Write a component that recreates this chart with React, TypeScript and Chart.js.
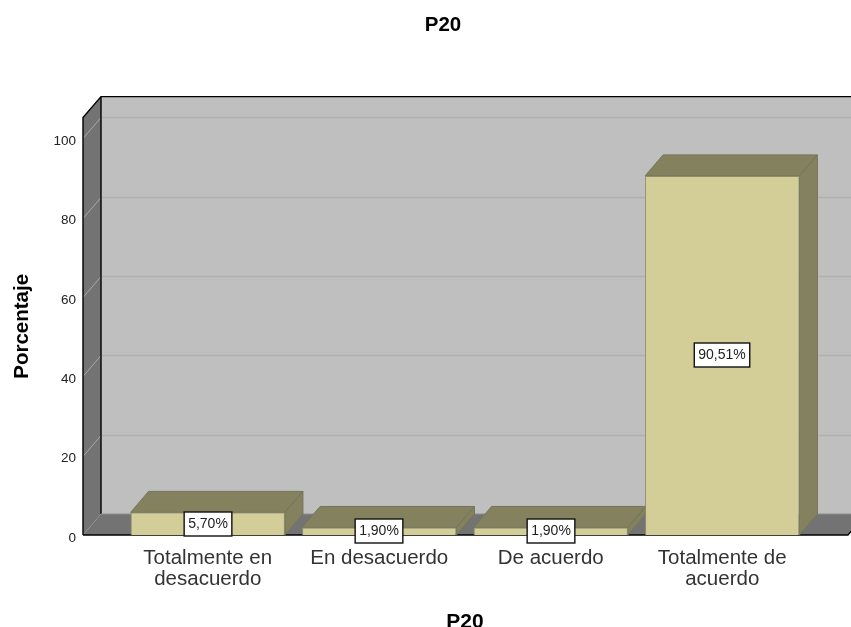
import React, { useEffect, useRef } from "react";
import { Chart, registerables } from "chart.js";

Chart.register(...registerables);

const categories = [["Totalmente en", "desacuerdo"], ["En desacuerdo"], ["De acuerdo"], ["Totalmente de", "acuerdo"]];
const percentages = [5.7, 1.9, 1.9, 90.51];
const chartTitle = "P20";
const yAxisTitle = "Porcentaje";
const xAxisTitle = "P20";

const FONT = "'Liberation Sans', Arial, sans-serif";
const DEPTH_X = 18;
const DEPTH_Y = 21;
const AXIS_LEFT_GAP = 39;
const AXIS_RIGHT_GAP = 40;

function poly(ctx: CanvasRenderingContext2D, pts: number[][], fill: string, stroke?: string, lw = 1) {
  ctx.beginPath();
  pts.forEach((p, i) => (i ? ctx.lineTo(p[0], p[1]) : ctx.moveTo(p[0], p[1])));
  ctx.closePath();
  ctx.fillStyle = fill;
  ctx.fill();
  if (stroke) {
    ctx.strokeStyle = stroke;
    ctx.lineWidth = lw;
    ctx.stroke();
  }
}

const box3d = {
  id: "box3d",
  afterLayout(chart: any) {
    // the tick labels sit far from the chart area; widen the axis box so they are not clipped
    chart.scales.y.left = 0;
  },
  beforeDatasetsDraw(chart: any) {
    const { ctx, chartArea: a, scales } = chart;
    const l = a.left - AXIS_LEFT_GAP;
    const r = a.right + AXIS_RIGHT_GAP;
    const t = a.top;
    const b = a.bottom;
    ctx.save();
    poly(ctx, [[l + DEPTH_X, t - DEPTH_Y], [r + DEPTH_X, t - DEPTH_Y], [r + DEPTH_X, b - DEPTH_Y], [l + DEPTH_X, b - DEPTH_Y]], "#BFBFBF");
    poly(ctx, [[l, t], [l + DEPTH_X, t - DEPTH_Y], [l + DEPTH_X, b - DEPTH_Y], [l, b]], "#737373");
    poly(ctx, [[l, b], [l + DEPTH_X, b - DEPTH_Y], [r + DEPTH_X, b - DEPTH_Y], [r, b]], "#737373");
    scales.y.ticks.forEach((tick: any) => {
      if (tick.value === 0) return;
      const y = Math.round(scales.y.getPixelForValue(tick.value)) + 0.5;
      ctx.strokeStyle = "#A8A8A8";
      ctx.lineWidth = 1;
      ctx.beginPath();
      ctx.moveTo(l, y);
      ctx.lineTo(l + DEPTH_X, y - DEPTH_Y);
      ctx.stroke();
      ctx.strokeStyle = "#B0B0B0";
      ctx.lineWidth = 1.5;
      ctx.beginPath();
      ctx.moveTo(l + DEPTH_X, y - DEPTH_Y);
      ctx.lineTo(r + DEPTH_X, y - DEPTH_Y);
      ctx.stroke();
    });
    // outline of the walls
    ctx.strokeStyle = "#000000";
    ctx.lineWidth = 1.4;
    ctx.beginPath();
    ctx.moveTo(l, b);
    ctx.lineTo(l, t);
    ctx.lineTo(l + DEPTH_X, t - DEPTH_Y);
    ctx.lineTo(r + DEPTH_X, t - DEPTH_Y);
    ctx.moveTo(l + DEPTH_X, t - DEPTH_Y);
    ctx.lineTo(l + DEPTH_X, b - DEPTH_Y);
    ctx.moveTo(l, b);
    ctx.lineTo(r, b);
    ctx.lineTo(r + DEPTH_X, b - DEPTH_Y);
    ctx.stroke();
    ctx.strokeStyle = "#8E8E8E";
    ctx.lineWidth = 1;
    ctx.beginPath();
    ctx.moveTo(l + DEPTH_X, b - DEPTH_Y);
    ctx.lineTo(r + DEPTH_X, b - DEPTH_Y);
    ctx.stroke();
    // bar depth faces
    chart.getDatasetMeta(0).data.forEach((bar: any) => {
      const p = bar.getProps(["x", "y", "base", "width"], true);
      const x0 = p.x - p.width / 2;
      const x1 = p.x + p.width / 2;
      const edge = "#75755A";
      poly(ctx, [[x0, p.y], [x0 + DEPTH_X, p.y - DEPTH_Y], [x1 + DEPTH_X, p.y - DEPTH_Y], [x1, p.y]], "#83815E", edge);
      poly(ctx, [[x1, p.y], [x1 + DEPTH_X, p.y - DEPTH_Y], [x1 + DEPTH_X, p.base - DEPTH_Y], [x1, p.base]], "#83815E", edge);
    });
    ctx.restore();
  },
  afterDatasetsDraw(chart: any) {
    const { ctx } = chart;
    ctx.save();
    ctx.font = `14px ${FONT}`;
    ctx.textAlign = "center";
    ctx.textBaseline = "middle";
    chart.getDatasetMeta(0).data.forEach((bar: any, i: number) => {
      const p = bar.getProps(["x", "y", "base"], true);
      const text = percentages[i].toFixed(2).replace(".", ",") + "%";
      const w = ctx.measureText(text).width + 8;
      const h = 24;
      const cx = Math.round(p.x);
      const cy = Math.round((p.y + p.base) / 2);
      ctx.fillStyle = "#FFFFFF";
      ctx.fillRect(cx - w / 2, cy - h / 2, w, h);
      ctx.strokeStyle = "#111111";
      ctx.lineWidth = 1.4;
      ctx.strokeRect(cx - w / 2, cy - h / 2, w, h);
      ctx.fillStyle = "#222222";
      ctx.fillText(text, cx, cy + 0.5);
    });
    ctx.restore();
  },
};

export default function App() {
  const ref = useRef<HTMLCanvasElement>(null);
  useEffect(() => {
    const chart = new Chart(ref.current!, {
      type: "bar",
      data: {
        labels: categories,
        datasets: [
          {
            data: percentages,
            backgroundColor: "#D3CE97",
            borderColor: "#8F8F6C",
            borderWidth: 1,
            barPercentage: 0.9,
            categoryPercentage: 1,
          },
        ],
      },
      plugins: [box3d],
      options: {
        responsive: false,
        animation: false,
        layout: { padding: { left: 78, right: 43, top: 0, bottom: 0 } },
        plugins: {
          legend: { display: false },
          tooltip: { enabled: false },
          title: {
            display: true,
            text: chartTitle,
            color: "#000000",
            font: { family: FONT, size: 20.5, weight: "bold" },
            padding: { top: 13, bottom: 80 },
          },
        },
        scales: {
          x: {
            grid: { display: false },
            border: { display: false },
            afterFit: (s: any) => {
              s.height = 92;
            },
            ticks: {
              color: "#333333",
              font: { family: FONT, size: 20.5, lineHeight: 1.03 },
              padding: 5,
              maxRotation: 0,
              minRotation: 0,
              autoSkip: false,
            },
            title: {
              display: true,
              text: xAxisTitle,
              color: "#000000",
              font: { family: FONT, size: 21, weight: "bold" },
              padding: { top: 0, bottom: -8 },
            },
          },
          y: {
            min: 0,
            max: 105.2,
            grid: { display: false },
            border: { display: false },
            afterFit: (s: any) => {
              s.width = 44;
            },
            ticks: {
              stepSize: 20,
              includeBounds: false,
              color: "#222222",
              font: { family: FONT, size: 13.5 },
              padding: 38,
              labelOffset: 3,
            },
            title: {
              display: true,
              text: yAxisTitle,
              color: "#000000",
              font: { family: FONT, size: 20.5, weight: "bold" },
              padding: { top: 10, bottom: 0 },
            },
          },
        },
      } as any,
    });
    return () => chart.destroy();
  }, []);
  return <canvas ref={ref} width={851} height={627} style={{ position: "absolute", left: 0, top: 0, display: "block" }} />;
}
